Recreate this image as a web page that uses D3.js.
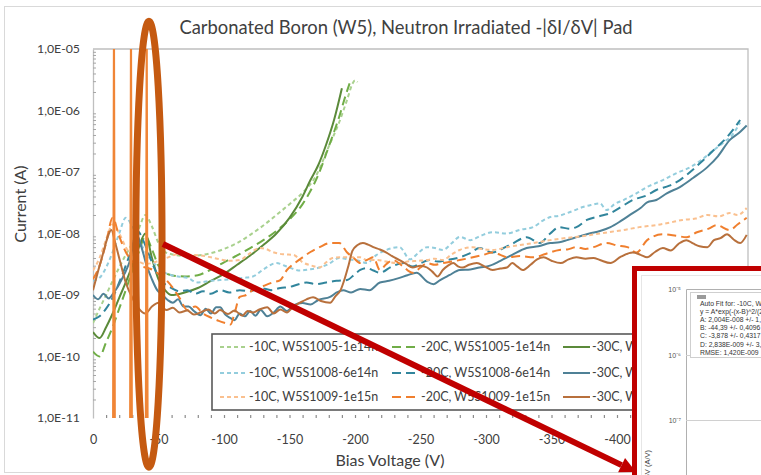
<!DOCTYPE html>
<html><head><meta charset="utf-8">
<script src="https://cdn.jsdelivr.net/npm/d3@7"></script>
<style>
html,body{margin:0;padding:0;background:#fff;}
svg{display:block;font-family:Lato, "Open Sans", sans-serif;}
</style></head><body>
<svg id="c" width="761" height="475"></svg>
<script>
// ---------------- DATA ([bias V, current A]) ----------------
const g10 = [[0,3.5e-10],[-5,6e-10],[-10,1e-9],[-15,1.7e-9],[-20,2.8e-9],[-25,4.5e-9],[-30,7e-9],[-35,1.2e-8],[-40,2e-8],[-45,1.3e-8],[-50,7e-9],[-55,5e-9],[-60,4.6e-9],[-70,4.3e-9],[-80,4.4e-9],[-90,4.8e-9],[-100,5.6e-9],[-110,7e-9],[-120,9.5e-9],[-130,1.35e-8],[-140,2e-8],[-150,3e-8],[-160,4.6e-8],[-170,8.5e-8],[-180,2.6e-7],[-188,6.5e-7],[-194,1.5e-6],[-198,2.7e-6],[-200,3.1e-6],[-202,2.9e-6]];
const g20 = [[0,1.2e-10],[-5,1e-10],[-10,1.7e-10],[-15,3e-10],[-20,6e-10],[-25,1.2e-9],[-30,2.5e-9],[-35,5e-9],[-40,9e-9],[-45,5.5e-9],[-50,3e-9],[-55,2.3e-9],[-60,2.1e-9],[-70,2e-9],[-80,2.1e-9],[-90,2.6e-9],[-100,3.4e-9],[-110,4.4e-9],[-120,5.8e-9],[-130,7.8e-9],[-140,1.1e-8],[-150,1.7e-8],[-160,3e-8],[-165,4.5e-8],[-172,9e-8],[-180,2.6e-7],[-188,8e-7],[-193,1.8e-6],[-196,2.8e-6]];
const g30 = [[0,2.5e-10],[-5,2e-10],[-10,3e-10],[-15,5e-10],[-20,9e-10],[-25,1.6e-9],[-30,3e-9],[-35,6e-9],[-40,1e-8],[-45,4e-9],[-50,1.8e-9],[-55,1.2e-9],[-60,1e-9],[-70,1.1e-9],[-80,1.3e-9],[-90,1.7e-9],[-100,2.2e-9],[-110,3.1e-9],[-120,4.4e-9],[-130,6.5e-9],[-140,1e-8],[-150,1.8e-8],[-160,4e-8],[-166,7.4e-8],[-172,1.3e-7],[-178,2.8e-7],[-184,7e-7],[-190,2.3e-6]];

const b10 = [[0,1.7e-9],[-5,1.9e-9],[-10,2.8e-9],[-15,5e-9],[-20,1e-8],[-25,1.8e-8],[-30,1.3e-8],[-35,8e-9],[-40,5e-9],[-45,3.6e-9],[-50,2.8e-9],[-55,2.3e-9],[-60,2.1e-9],[-65,2e-9],[-72,1.9e-9],[-80,1.6e-9],[-90,1.7e-9],[-97,1.75e-9],[-105,1.8e-9],[-115,1.9e-9],[-122,2e-9],[-130,2.6e-9],[-140,3.3e-9],[-148,2.9e-9],[-158,2.5e-9],[-165,2.6e-9],[-173,2.8e-9],[-180,3.2e-9],[-188,4e-9],[-195,3.8e-9],[-203,3.6e-9],[-209,3.3e-9],[-216,4.4e-9],[-224,5.4e-9],[-234,6e-9],[-242,3.8e-9],[-249,5e-9],[-255,6e-9],[-261,5.8e-9],[-267,5.4e-9],[-274,7e-9],[-280,8.8e-9],[-288,7.8e-9],[-296,9.2e-9],[-305,1.05e-8],[-316,1e-8],[-326,1.15e-8],[-336,1.27e-8],[-343,1.6e-8],[-349,1.85e-8],[-356,1.95e-8],[-362,2.15e-8],[-368,2.4e-8],[-374,2.7e-8],[-380,2.9e-8],[-387,3.1e-8],[-392,2.4e-8],[-398,3e-8],[-405,3.5e-8],[-414,4.4e-8],[-423,5.7e-8],[-435,7.4e-8],[-445,9.5e-8],[-456,1.2e-7],[-465,1.6e-7],[-473,2.2e-7],[-482,3.1e-7],[-488,4e-7],[-494,6.4e-7]];
const b20 = [[0,4e-10],[-5,4.5e-10],[-10,6e-10],[-15,9e-10],[-20,1.6e-9],[-25,3e-9],[-30,6e-9],[-34,1.1e-8],[-38,8e-9],[-42,5e-9],[-46,3e-9],[-50,2e-9],[-55,1.5e-9],[-60,1.3e-9],[-66,1.15e-9],[-72,1.2e-9],[-78,1.05e-9],[-84,1.15e-9],[-90,1.05e-9],[-97,1.2e-9],[-104,1.1e-9],[-112,1.2e-9],[-120,1.15e-9],[-128,1.3e-9],[-136,1.2e-9],[-143,1.3e-9],[-150,1.35e-9],[-157,1.5e-9],[-163,1.6e-9],[-170,1.5e-9],[-178,1.6e-9],[-186,1.7e-9],[-194,1.75e-9],[-200,2.2e-9],[-204,2.55e-9],[-209,2.75e-9],[-214,2.5e-9],[-219,2.3e-9],[-228,2.9e-9],[-237,3.3e-9],[-244,2.9e-9],[-250,3.3e-9],[-257,3.7e-9],[-263,3.5e-9],[-270,3.7e-9],[-280,4.1e-9],[-288,4.8e-9],[-295,5.8e-9],[-305,4.9e-9],[-312,5.6e-9],[-320,6.8e-9],[-331,8.7e-9],[-341,7e-9],[-349,1e-8],[-356,1.27e-8],[-363,1.2e-8],[-369,1.27e-8],[-377,1.66e-8],[-386,1.9e-8],[-395,2.15e-8],[-403,2.7e-8],[-412,3.5e-8],[-423,4.2e-8],[-430,5.1e-8],[-440,6e-8],[-448,7.4e-8],[-457,1.05e-7],[-466,1.57e-7],[-475,2.4e-7],[-484,3.7e-7],[-494,7e-7]];
const b30 = [[0,1e-9],[-4,8.5e-10],[-8,1.05e-9],[-12,8.8e-10],[-16,1.1e-9],[-20,1.5e-9],[-24,2.2e-9],[-28,3.5e-9],[-33,1e-8],[-37,6e-9],[-41,3e-9],[-45,1.8e-9],[-49,1.2e-9],[-53,1e-9],[-57,8.3e-10],[-61,7.5e-10],[-65,8.5e-10],[-69,6.5e-10],[-73,6.5e-10],[-77,5.5e-10],[-82,4.7e-10],[-86,6e-10],[-90,5e-10],[-94,6.3e-10],[-97,6.3e-10],[-101,4.8e-10],[-105,4.2e-10],[-108,3.9e-10],[-112,5e-10],[-116,4.5e-10],[-120,5.5e-10],[-124,4.6e-10],[-128,5.7e-10],[-133,4.5e-10],[-138,5.2e-10],[-143,6.5e-10],[-148,5.5e-10],[-153,6.8e-10],[-160,7.4e-10],[-166,7e-10],[-172,8.3e-10],[-181,9.3e-10],[-186,1.1e-9],[-191,1.2e-9],[-197,1.1e-9],[-204,1.25e-9],[-211,1.2e-9],[-219,1.6e-9],[-226,1.7e-9],[-234,1.9e-9],[-240,2.1e-9],[-247,2.3e-9],[-255,1.65e-9],[-260,1.5e-9],[-265,1.75e-9],[-272,2.1e-9],[-280,2.55e-9],[-288,2.6e-9],[-295,2.8e-9],[-303,3e-9],[-311,3.6e-9],[-320,4.5e-9],[-331,5.8e-9],[-340,6.2e-9],[-349,7e-9],[-356,7.2e-9],[-362,7.8e-9],[-370,8.8e-9],[-379,1e-8],[-387,1.1e-8],[-395,1.27e-8],[-403,1.6e-8],[-412,2.15e-8],[-418,2.6e-8],[-423,3.2e-8],[-430,3.5e-8],[-438,4.5e-8],[-448,5.7e-8],[-458,8e-8],[-469,1.2e-7],[-477,1.8e-7],[-486,3.3e-7],[-493,4.3e-7],[-499,5.7e-7]];

const o10 = [[0,2.5e-9],[-5,4e-9],[-10,8e-9],[-15,1.4e-8],[-20,1e-8],[-25,6e-9],[-30,4.2e-9],[-35,3.5e-9],[-40,3.2e-9],[-45,3.3e-9],[-50,3.6e-9],[-56,4e-9],[-65,4.6e-9],[-73,4.5e-9],[-82,4.4e-9],[-90,4.1e-9],[-97,3.8e-9],[-105,3.6e-9],[-112,3.7e-9],[-120,4.8e-9],[-127,5.8e-9],[-132,5.6e-9],[-137,5e-9],[-145,4.6e-9],[-153,4.5e-9],[-160,3.4e-9],[-167,3e-9],[-173,2.8e-9],[-178,3.4e-9],[-183,4e-9],[-190,4.1e-9],[-198,4.1e-9],[-204,4.1e-9],[-209,3.7e-9],[-217,3.7e-9],[-224,3.5e-9],[-232,3.3e-9],[-240,3.5e-9],[-248,3.6e-9],[-255,3.7e-9],[-261,3.9e-9],[-267,3.7e-9],[-274,4.6e-9],[-280,5.4e-9],[-290,6e-9],[-297,5.6e-9],[-305,5.4e-9],[-316,6e-9],[-326,6.5e-9],[-336,7e-9],[-349,7.8e-9],[-358,8.3e-9],[-366,8.7e-9],[-376,9.2e-9],[-387,1e-8],[-396,1.07e-8],[-405,1.14e-8],[-417,1.27e-8],[-430,1.37e-8],[-440,1.5e-8],[-450,1.66e-8],[-460,1.75e-8],[-469,2e-8],[-478,1.9e-8],[-486,2.15e-8],[-492,2e-8],[-499,2.6e-8]];
const o20 = [[0,1.8e-9],[-5,3e-9],[-10,7e-9],[-15,1.8e-8],[-20,9e-9],[-25,5e-9],[-30,3.5e-9],[-35,3e-9],[-40,2.8e-9],[-45,2.6e-9],[-50,2.2e-9],[-56,1.75e-9],[-61,1.3e-9],[-66,9e-10],[-72,5.7e-10],[-78,6.5e-10],[-84,5e-10],[-90,4.3e-10],[-96,3.8e-10],[-101,3.5e-10],[-105,3.3e-10],[-108,5e-10],[-112,9.3e-10],[-117,1e-9],[-122,1.2e-9],[-130,1.4e-9],[-137,1.6e-9],[-143,1.75e-9],[-148,2.55e-9],[-154,3.3e-9],[-160,4.1e-9],[-166,5e-9],[-173,6e-9],[-181,7e-9],[-188,7e-9],[-194,4.9e-9],[-199,4e-9],[-204,3.3e-9],[-210,3.8e-9],[-214,4.1e-9],[-219,2.55e-9],[-224,3.2e-9],[-229,3.7e-9],[-236,3e-9],[-244,2.3e-9],[-250,2.8e-9],[-255,3.3e-9],[-261,3.1e-9],[-267,3.3e-9],[-274,3.5e-9],[-280,3.7e-9],[-290,4.1e-9],[-298,4.5e-9],[-305,4.9e-9],[-311,4.5e-9],[-316,4.1e-9],[-326,4.3e-9],[-336,4.1e-9],[-346,4.7e-9],[-356,5.4e-9],[-362,5.5e-9],[-369,6e-9],[-376,5.6e-9],[-382,6e-9],[-392,7e-9],[-400,6.4e-9],[-408,6e-9],[-415,4.9e-9],[-423,7.8e-9],[-435,9.7e-9],[-445,9.2e-9],[-453,8.7e-9],[-461,1.05e-8],[-470,1.2e-8],[-476,1.37e-8],[-486,1.14e-8],[-492,1.4e-8],[-499,1.8e-8]];
const o30 = [[0,1.2e-9],[-4,2.5e-9],[-8,5e-9],[-11,8.5e-9],[-14,1.14e-8],[-17,7e-9],[-21,3.3e-9],[-25,1.6e-9],[-30,9e-10],[-35,6e-10],[-40,5e-10],[-45,6.5e-10],[-50,7.5e-10],[-56,5.7e-10],[-61,6.2e-10],[-66,5.2e-10],[-72,5.6e-10],[-77,4.8e-10],[-82,5.2e-10],[-88,5.8e-10],[-93,5e-10],[-97,5.7e-10],[-103,4.9e-10],[-108,5.6e-10],[-114,4.6e-10],[-118,5.5e-10],[-122,5.2e-10],[-127,5.8e-10],[-133,6.3e-10],[-138,5e-10],[-143,5.8e-10],[-148,5.2e-10],[-153,6.5e-10],[-158,7.5e-10],[-163,8.5e-10],[-168,9.2e-10],[-174,8e-10],[-181,7.5e-10],[-185,9.5e-10],[-189,1.2e-9],[-192,1.8e-9],[-195,3e-9],[-198,5.2e-9],[-202,6.5e-9],[-206,7e-9],[-210,6.6e-9],[-214,6e-9],[-219,5.5e-9],[-224,4.9e-9],[-229,4.2e-9],[-234,3.7e-9],[-239,3.2e-9],[-244,2.8e-9],[-250,3e-9],[-255,2.8e-9],[-259,2.4e-9],[-263,2e-9],[-267,2.55e-9],[-271,3e-9],[-275,3.3e-9],[-279,2.9e-9],[-282,2.8e-9],[-287,3.1e-9],[-293,3.3e-9],[-299,2.9e-9],[-305,2.55e-9],[-311,2.7e-9],[-316,2.8e-9],[-320,3.3e-9],[-324,2.9e-9],[-328,2.55e-9],[-334,3.1e-9],[-339,3.8e-9],[-344,4.1e-9],[-350,3.6e-9],[-357,3.3e-9],[-363,3.8e-9],[-369,4.1e-9],[-376,3.9e-9],[-382,4e-9],[-387,3.7e-9],[-395,3.3e-9],[-403,4.2e-9],[-412,4.9e-9],[-418,4.5e-9],[-423,4.1e-9],[-429,5e-9],[-435,5.8e-9],[-441,5.3e-9],[-447,6.8e-9],[-453,7.8e-9],[-458,6.9e-9],[-463,6.2e-9],[-469,6e-9],[-474,7.8e-9],[-479,8.4e-9],[-484,9.7e-9],[-489,8e-9],[-494,7e-9],[-499,9.5e-9]];

// breakdown spikes of the 1e15 sample (full-scale jumps)
const spikeV = [-16, -29, -41];
const spikeRange = [1e-11, 1e-5];

const seriesNames = ["-10C, W5S1005-1e14n","-20C, W5S1005-1e14n","-30C, W5S1005-1e14n",
  "-10C, W5S1008-6e14n","-20C, W5S1008-6e14n","-30C, W5S1008-6e14n",
  "-10C, W5S1009-1e15n","-20C, W5S1009-1e15n","-30C, W5S1009-1e15n"];
const seriesData = [g10,g20,g30,b10,b20,b30,o10,o20,o30];

const yTicks = [1e-11,1e-10,1e-9,1e-8,1e-7,1e-6,1e-5];
const xTicks = [0,-50,-100,-150,-200,-250,-300,-350,-400,-450,-500];

const titleText = "Carbonated Boron (W5), Neutron Irradiated -|δI/δV| Pad";
const insetLines = ["Auto Fit for: -10C, W5S1009-1e15n","y = A*exp(-(x-B)^2/(2*C^2))+D","A: 2,004E-008 +/- 1,1E-009","B: -44,39 +/- 0,4096","C: -3,878 +/- 0,4317","D: 2,838E-009 +/- 3,2E-010","RMSE: 1,420E-009"];
const insetTicks = ["10⁻⁵","10⁻⁶","10⁻⁷"];

// ---------------- STYLE ----------------
const colors = ["#A9D18E","#70AD47","#5B8A3A","#93CDDD","#31859C","#4F8196","#FAC08F","#F07F2E","#B8703C"];
const dashes = ["4,3","9,5",null];

const svg = d3.select("#c");
const L=93,R=748,T=49,B=418;
const x = d3.scaleLinear().domain([0,-500]).range([L,R]);
const y = d3.scaleLog().domain([1e-11,1e-5]).range([B,T]);

// outer chart frame
svg.append("rect").attr("x",4.5).attr("y",6.5).attr("width",800).attr("height",466)
  .attr("fill","#fff").attr("stroke","#d9d9d9");

// title
svg.append("text").attr("x",406).attr("y",34).attr("text-anchor","middle")
  .attr("font-size",18.4).attr("fill","#404040").text(titleText);

// plot frame (top, right)
svg.append("path").attr("d",`M${L},${T}H${R}V${B}`).attr("fill","none").attr("stroke","#bfbfbf").attr("stroke-width",1.3);

// Y axis
const fmtY = d => "1,0E-" + String(-Math.round(Math.log10(d))).padStart(2,"0");
const yAx = svg.append("g").attr("transform",`translate(${L},0)`)
  .call(d3.axisLeft(y).tickValues(yTicks).tickFormat(fmtY).tickSize(0).tickPadding(13));
yAx.select(".domain").attr("stroke","#bfbfbf").attr("stroke-width",1.3);
yAx.selectAll("text").attr("font-size",12.3).attr("fill","#404040").attr("font-family","Lato");
const minorY = [];
for (let e=-11;e<-5;e++) for (let m=2;m<10;m++) minorY.push(m*Math.pow(10,e));
const yMin = svg.append("g").attr("transform",`translate(${L},0)`)
  .call(d3.axisLeft(y).tickValues(minorY).tickFormat("").tickSize(-3));
yMin.select(".domain").remove();
yMin.selectAll("line").attr("stroke","#a6a6a6");

// X axis
const xAx = svg.append("g").attr("transform",`translate(0,${B})`)
  .call(d3.axisBottom(x).tickValues(xTicks).tickFormat(d=>d===0?"0":String(d)).tickSize(0).tickPadding(17));
xAx.select(".domain").remove();
xAx.selectAll("text").attr("font-size",12.5).attr("fill","#404040").attr("font-family","Lato");
const xMin = svg.append("g").attr("transform",`translate(0,${B})`)
  .call(d3.axisBottom(x).tickValues(d3.range(-10,-500,-10)).tickFormat("").tickSize(-3));
xMin.select(".domain").remove();
xMin.selectAll("line").attr("stroke","#8c8c8c").attr("stroke-width",1.2);

// axis titles
svg.append("text").attr("transform","translate(26,204) rotate(-90)").attr("text-anchor","middle")
  .attr("font-size",16).attr("fill","#404040").text("Current (A)");
svg.append("text").attr("x",390).attr("y",466).attr("text-anchor","middle")
  .attr("font-size",16).attr("fill","#404040").text("Bias Voltage (V)");

// clips
const defs = svg.append("defs");
defs.append("clipPath").attr("id","pc").append("rect").attr("x",L).attr("y",T-2).attr("width",R-L).attr("height",B-T+6);
defs.append("clipPath").attr("id","lc").append("rect").attr("x",0).attr("y",0).attr("width",633).attr("height",475);
const plot = svg.append("g").attr("clip-path","url(#pc)");

const line = d3.line().x(d=>x(d[0])).y(d=>y(d[1])).curve(d3.curveMonotoneX);
seriesData.forEach((d,i)=>{
  plot.append("path").attr("d",line(d)).attr("fill","none")
    .attr("stroke",colors[i]).attr("stroke-width",2)
    .attr("stroke-dasharray",dashes[i%3]).attr("stroke-linejoin","round");
});
// spikes
const lin = d3.line().x(d=>x(d[0])).y(d=>y(d[1]));
spikeV.forEach(v=>{
  plot.append("path").attr("d",lin([[v+0.6,spikeRange[0]],[v,spikeRange[1]],[v-0.6,spikeRange[0]]]))
    .attr("fill","none").attr("stroke","#F08536").attr("stroke-width",2.2);
});

// legend (its right part is hidden behind the inset)
const lg = svg.append("g").attr("clip-path","url(#lc)");
lg.append("rect").attr("x",212).attr("y",334).attr("width",440).attr("height",76)
  .attr("fill","#fff").attr("stroke","#595959").attr("stroke-width",1.6);
const colX=[220,392,563], rowY=[347,373,397];
seriesNames.forEach((n,i)=>{
  const r=Math.floor(i/3), c=i%3;
  lg.append("line").attr("x1",colX[c]).attr("x2",colX[c]+27).attr("y1",rowY[r]).attr("y2",rowY[r])
    .attr("stroke",colors[i]).attr("stroke-width",2).attr("stroke-dasharray",dashes[c]);
  lg.append("text").attr("x",colX[c]+29).attr("y",rowY[r]).attr("dy","0.35em")
    .attr("font-size",12.5).attr("fill","#404040").text(n);
});

// annotation: ellipse around the peak region
const ell = {v:-42.7, dv:10, top:Math.pow(10,-4.55), bot:Math.pow(10,-11.8)};
svg.append("ellipse").attr("cx",x(ell.v)).attr("rx",x(ell.v-ell.dv)-x(ell.v))
  .attr("cy",(y(ell.top)+y(ell.bot))/2).attr("ry",(y(ell.bot)-y(ell.top))/2)
  .attr("fill","none").attr("stroke","#C55A11").attr("stroke-width",7);

// inset (fit screenshot)
const ins = svg.append("g");
ins.append("rect").attr("x",634.5).attr("y",268.5).attr("width",200).attr("height",300)
  .attr("fill","#fff").attr("stroke","#C00000").attr("stroke-width",5);
ins.append("rect").attr("x",641.5).attr("y",275.5).attr("width",200).attr("height",300)
  .attr("fill","none").attr("stroke","#e6e6e6");
ins.append("path").attr("d","M686.5,480V289.5H770").attr("fill","none").attr("stroke","#b0b0b0");
[355.5,420.5].forEach(gy=>ins.append("line").attr("x1",686).attr("x2",770).attr("y1",gy).attr("y2",gy).attr("stroke","#d0d0d0"));
[289.5,355.5,420.5].forEach((gy,i)=>{
  ins.append("text").attr("x",681).attr("y",gy+2.5).attr("text-anchor","end")
    .attr("font-family","Liberation Sans, Arial").attr("font-size",7).attr("fill","#555").text(insetTicks[i]);
});
ins.append("rect").attr("x",690.5).attr("y",292.5).attr("width",100).attr("height",65)
  .attr("fill","#fff").attr("stroke","#cfcfcf");
ins.append("rect").attr("x",697).attr("y",295).attr("width",9).attr("height",4).attr("fill","#9a9a9a");
insetLines.forEach((s,i)=>ins.append("text").attr("x",700).attr("y",305.5+i*8.2)
  .attr("font-family","Liberation Sans, Arial").attr("font-size",6.8).attr("fill","#333").text(s));
ins.append("text").attr("transform","translate(650,450) rotate(-90)").attr("text-anchor","end")
  .attr("font-family","Liberation Sans, Arial").attr("font-size",7.5).attr("fill","#444").text("δI/δV (A/V)");

// annotation: arrow from peak to inset
const arrow = {from:[-53.4,Math.pow(10,-8.17)], to:[-414.5,Math.pow(10,-11.88)]};
const x0=x(arrow.from[0]), y0=y(arrow.from[1]), x1=x(arrow.to[0]), y1=y(arrow.to[1]);
const ang=Math.atan2(y1-y0,x1-x0), hl=16, hw=8;
const bx=x1-hl*Math.cos(ang), by=y1-hl*Math.sin(ang);
svg.append("line").attr("x1",x0).attr("y1",y0).attr("x2",bx).attr("y2",by)
  .attr("stroke","#C00000").attr("stroke-width",6);
svg.append("path").attr("d",`M${x1},${y1}L${bx+hw*Math.sin(ang)},${by-hw*Math.cos(ang)}L${bx-hw*Math.sin(ang)},${by+hw*Math.cos(ang)}Z`)
  .attr("fill","#C00000");
</script>
</body></html>
